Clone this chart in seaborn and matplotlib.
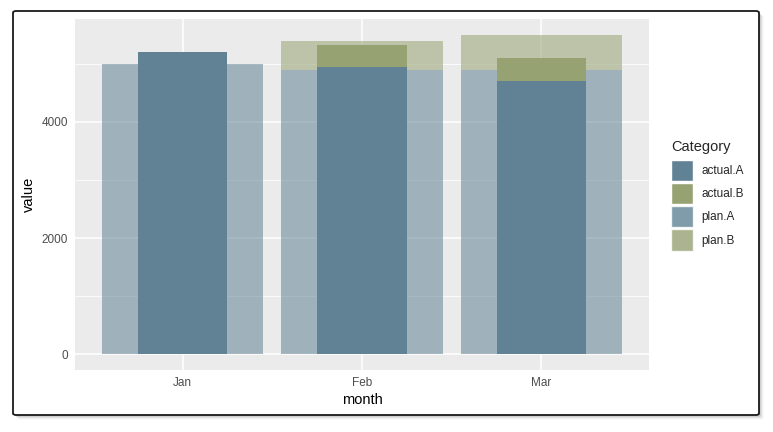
import matplotlib
matplotlib.use("Agg")
import matplotlib.pyplot as plt
from matplotlib.patches import Patch, FancyBboxPatch
from matplotlib.ticker import MultipleLocator
import seaborn as sns

# data
months = ["Jan", "Feb", "Mar"]
plan_a = [5000, 4900, 4900]
plan_b = [0, 500, 600]
actual_a = [5200, 4950, 4700]
actual_b = [0, 380, 400]
categories = ["actual.A", "actual.B", "plan.A", "plan.B"]

col_a = "#618295"
col_b = "#96a272"
plan_alpha = 0.55

sns.set_theme(style="darkgrid", rc={
    "axes.facecolor": "#ebebeb",
    "figure.facecolor": "white",
    "grid.color": "white",
})
plt.rcParams["font.family"] = ["Liberation Sans", "DejaVu Sans"]

W, H = 773, 432
fig = plt.figure(figsize=(W / 100, H / 100), dpi=100)
ax = fig.add_axes([75 / W, 1 - 370 / H, (649 - 75) / W, (370 - 19) / H])

# frame with a soft shadow around the whole figure
fx0, fx1, fy0, fy1 = 13, 759, 11, 415
for i, a in enumerate([0.10, 0.08, 0.06, 0.04, 0.02]):
    off = i + 1
    fig.patches.append(FancyBboxPatch(
        ((fx0 + off) / W, 1 - (fy1 + off) / H), (fx1 - fx0) / W, (fy1 - fy0) / H,
        boxstyle="round,pad=0,rounding_size=0.004", transform=fig.transFigure,
        facecolor="black", edgecolor="none", alpha=a, zorder=-12))
fig.patches.append(FancyBboxPatch(
    (fx0 / W, 1 - fy1 / H), (fx1 - fx0) / W, (fy1 - fy0) / H,
    boxstyle="round,pad=0,rounding_size=0.004", transform=fig.transFigure,
    facecolor="white", edgecolor="#1a1a1a", linewidth=1.3, zorder=-10))

# plan bars (wide, translucent), stacked
sns.barplot(x=months, y=plan_a, order=months, color=col_a, alpha=plan_alpha,
            width=0.9, linewidth=0, saturation=1, errorbar=None, ax=ax)
sns.barplot(x=months, y=plan_b, order=months, color=col_b, alpha=plan_alpha,
            width=0.9, linewidth=0, saturation=1, errorbar=None, ax=ax,
            bottom=plan_a)
# actual bars (narrow, solid), stacked
sns.barplot(x=months, y=actual_a, order=months, color=col_a,
            width=0.5, linewidth=0, saturation=1, errorbar=None, ax=ax)
sns.barplot(x=months, y=actual_b, order=months, color=col_b,
            width=0.5, linewidth=0, saturation=1, errorbar=None, ax=ax,
            bottom=actual_a)

ax.set_xlim(-0.6, 2.6)
ax.set_ylim(-275, 5775)
ax.set_yticks([0, 2000, 4000])
ax.yaxis.set_minor_locator(MultipleLocator(1000))
ax.grid(which="major", color="white", linewidth=1.1)
ax.grid(which="minor", axis="y", color="white", linewidth=0.55)
ax.set_axisbelow(True)
for s in ax.spines.values():
    s.set_visible(False)
ax.tick_params(axis="both", which="major", length=3, width=0.9, color="#333333",
               labelcolor="#4d4d4d", labelsize=8.5, pad=2)
ax.tick_params(axis="both", which="minor", length=0)

ax.set_xlabel("month", fontsize=10.5, color="black", labelpad=3)
ax.set_ylabel("value", fontsize=10.5, color="black", labelpad=4)

legend_colors = [col_a, col_b, col_a, col_b]
legend_alpha = [1, 1, 0.8, 0.8]
handles = [Patch(facecolor=c, alpha=a, edgecolor="white", linewidth=1, label=l)
           for c, a, l in zip(legend_colors, legend_alpha, categories)]
leg = fig.legend(handles=handles, title="Category", loc="upper left",
                 bbox_to_anchor=(671 / W, 1 - 140 / H), frameon=False,
                 fontsize=8.5, title_fontsize=10.5, handlelength=1.9,
                 handleheight=2.42, labelspacing=0.15, handletextpad=0.65,
                 borderpad=0, borderaxespad=0, alignment="left")
leg._legend_box.sep = 4

fig.savefig("out.png", dpi=100)
